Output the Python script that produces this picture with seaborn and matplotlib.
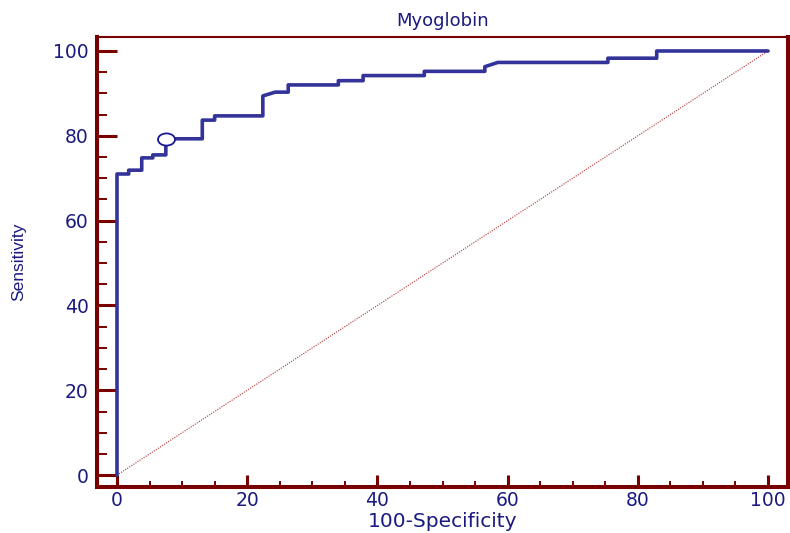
# ROC curve - Myoglobin
import matplotlib
matplotlib.use("Agg")
import matplotlib.pyplot as plt
from matplotlib.path import Path
from matplotlib.transforms import Affine2D
from matplotlib.ticker import MultipleLocator
import pandas as pd
import seaborn as sns

# ROC curve vertices (100-Specificity, Sensitivity)
fpr = [0, 0, 1.8, 1.8, 3.8, 3.8, 5.5, 5.5, 7.5, 7.5, 13.1, 13.1, 15.0, 15.0,
       22.4, 22.4, 24.3, 26.3, 26.3, 34.0, 34.0, 37.8, 37.8, 47.2, 47.2,
       56.5, 56.5, 58.5, 75.4, 75.4, 82.9, 82.9, 100]
tpr = [0, 71.0, 71.0, 71.9, 71.9, 74.8, 74.8, 75.5, 75.5, 79.3, 79.3, 83.7,
       83.7, 84.7, 84.7, 89.4, 90.3, 90.3, 92.0, 92.0, 93.0, 93.0, 94.2,
       94.2, 95.2, 95.2, 96.3, 97.3, 97.3, 98.3, 98.3, 100, 100]

# optimal criterion point
opt_fpr = [7.5]
opt_tpr = [79.3]

# reference diagonal
diag = [0, 100]

ticks = [0, 20, 40, 60, 80, 100]

roc = pd.DataFrame({"fpr": fpr, "tpr": tpr})

sns.set_style("white")
plt.rcParams["font.family"] = ["DejaVu Sans"]

maroon = "#780000"
navy = "#1a1a80"
curve = "#333399"

fig = plt.figure(figsize=(7.9, 5.33), dpi=100)
ax = fig.add_axes([0.1228, 0.0863, 0.8747, 0.8443])

sns.lineplot(x=diag, y=diag, ax=ax, color="#b03030", lw=0.8,
             linestyle=(0, (1, 1.2)))
sns.lineplot(data=roc, x="fpr", y="tpr", sort=False, ax=ax, color=curve,
             lw=2.6, estimator=None)

ellipse = Path.unit_circle().transformed(Affine2D().scale(1.4, 1.0))
sns.scatterplot(x=opt_fpr, y=opt_tpr, ax=ax, marker=ellipse, s=150,
                color="white", edgecolor="#1a1a90", linewidth=1.3, zorder=5)

ax.set_xlim(-3.07, 103.07)
ax.set_ylim(-2.8, 103.3)
ax.set_xticks(ticks)
ax.set_yticks(ticks)
ax.xaxis.set_minor_locator(MultipleLocator(5))
ax.yaxis.set_minor_locator(MultipleLocator(5))

ax.tick_params(axis="both", which="both", direction="in", colors=maroon,
               labelcolor=navy, labelsize=13.5, bottom=True, left=True,
               top=False, right=False)
ax.tick_params(axis="y", which="major", length=14.5, width=2.2, pad=6)
ax.tick_params(axis="y", which="minor", length=7.5, width=1.4)
ax.tick_params(axis="x", which="major", length=8.5, width=2.2, pad=3)
ax.tick_params(axis="x", which="minor", length=4.5, width=1.4)

for side in ["left", "bottom", "right"]:
    ax.spines[side].set_color(maroon)
    ax.spines[side].set_linewidth(2.9)
ax.spines["top"].set_color(maroon)
ax.spines["top"].set_linewidth(1.5)

ax.set_title("Myoglobin", color=navy, fontsize=13, pad=8)
ax.set_xlabel("100-Specificity", color=navy, fontsize=14.5, labelpad=1)
ax.set_ylabel("Sensitivity", color=navy, fontsize=12.5,
              family=["Liberation Sans", "DejaVu Sans"])
ax.yaxis.set_label_coords(-0.103, 0.5)

fig.savefig("out.png", dpi=100)
